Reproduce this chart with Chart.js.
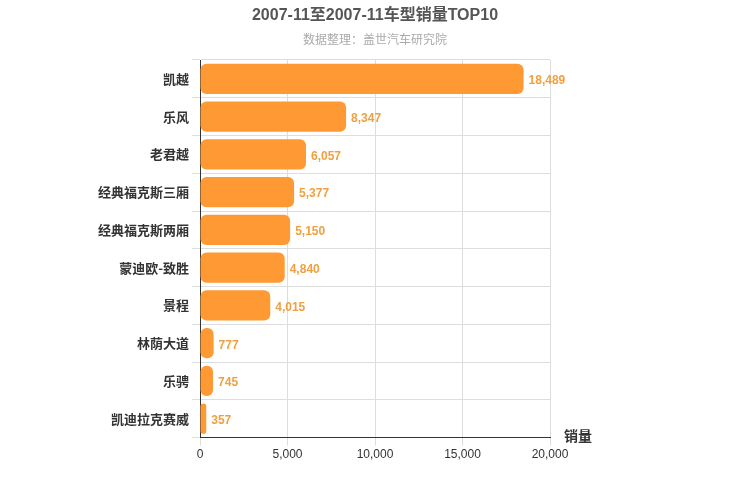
<!DOCTYPE html>
<html><head><meta charset="utf-8">
<script src="https://cdn.jsdelivr.net/npm/chart.js@4"></script>
<style>body{margin:0;background:#fff}#wrap{width:750px;height:500px}</style>
</head><body><div id="wrap"><canvas id="c"></canvas></div>
<script>
const models = ['凯越','乐风','老君越','经典福克斯三厢','经典福克斯两厢','蒙迪欧-致胜','景程','林荫大道','乐骋','凯迪拉克赛威'];
const sales = [18489,8347,6057,5377,5150,4840,4015,777,745,357];
const xTicks = [0,5000,10000,15000,20000];

// title, labels next to each bar, axis name
const labelPlugin = {
  id: 'labels',
  afterDatasetsDraw(chart) {
    const ctx = chart.ctx;
    const meta = chart.getDatasetMeta(0);
    ctx.save();
    ctx.textAlign = 'center';
    ctx.textBaseline = 'middle';
    ctx.fillStyle = '#555';
    ctx.font = 'bold 16px "Liberation Sans", "Noto Sans CJK SC", sans-serif';
    ctx.fillText('2007-11至2007-11车型销量TOP10', 375, 16);
    ctx.fillStyle = '#aaa';
    ctx.font = '12px "Liberation Sans", "Noto Sans CJK SC", sans-serif';
    ctx.fillText('数据整理：盖世汽车研究院', 375, 41);
    ctx.textAlign = 'left';
    ctx.font = 'bold 12px "Liberation Sans", sans-serif';
    ctx.fillStyle = '#f0a040';
    meta.data.forEach((bar, i) => {
      ctx.fillText(sales[i].toLocaleString('en-US'), bar.x + 5, bar.y + 2);
    });
    ctx.fillStyle = '#333';
    ctx.font = 'bold 14px "Noto Sans CJK SC", sans-serif';
    ctx.fillText('销量', chart.chartArea.right + 14, chart.chartArea.bottom - 2);
    ctx.restore();
  }
};

new Chart(document.getElementById('c'), {
  type: 'bar',
  data: {
    labels: models,
    datasets: [{
      data: sales,
      backgroundColor: '#ff9933',
      borderRadius: 6,
      borderSkipped: false,
      categoryPercentage: 0.8,
      barPercentage: 1
    }]
  },
  options: {
    indexAxis: 'y',
    responsive: true,
    maintainAspectRatio: false,
    animation: false,
    layout: { padding: { left: 0, right: 200, top: 60, bottom: 36 } },
    plugins: { legend: { display: false }, tooltip: { enabled: false } },
    scales: {
      x: {
        min: 0, max: 20000,
        afterBuildTicks: a => { a.ticks = xTicks.map(v => ({ value: v })); },
        ticks: { color: '#333', font: { size: 12, family: '"Liberation Sans", sans-serif' }, maxRotation: 0, padding: 2, callback: v => v.toLocaleString('en-US') },
        grid: { color: '#ddd' },
        border: { color: '#333' }
      },
      y: {
        afterFit: a => { a.width = 200; },
        ticks: { color: '#333', font: { size: 13, weight: 'bold', family: '"Noto Sans CJK SC", sans-serif' } },
        grid: { color: '#ddd', offset: true },
        border: { color: '#333' }
      }
    }
  },
  plugins: [labelPlugin]
});
</script></body></html>
